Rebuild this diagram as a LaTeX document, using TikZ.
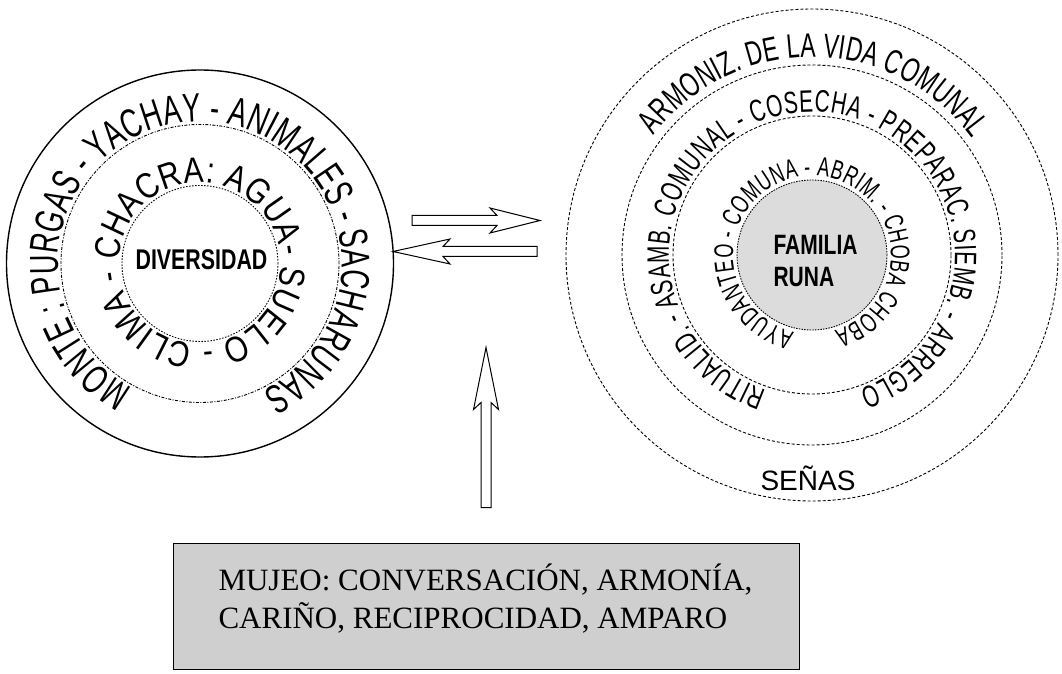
\documentclass[tikz,border=0pt]{standalone}
\usepackage{fontspec}
\setmainfont{Liberation Serif}
\newfontfamily\narrowsans[FakeStretch=0.75]{Liberation Sans}
\newfontfamily\condsans[FakeStretch=0.67]{Liberation Sans}
\newfontfamily\widesans[FakeStretch=0.83]{Liberation Sans}
\newfontfamily\plainsans{Liberation Sans}
\usetikzlibrary{decorations.text}
\definecolor{stipple}{HTML}{CFCFCF}
\definecolor{stippleL}{HTML}{DCDCDC}

% ring fonts (left outer/middle, right outer/middle/inner)
\newcommand\ringLo{\condsans\fontsize{40.5}{40.5}\selectfont}
\newcommand\ringLm{\widesans\fontsize{36}{36}\selectfont}
\newcommand\ringRo{\condsans\fontsize{34}{34}\selectfont}
\newcommand\ringRm{\condsans\fontsize{31}{31}\selectfont}
\newcommand\ringRi{\condsans\fontsize{27}{27}\selectfont}

\begin{document}
\begin{tikzpicture}[x=1pt, y=1pt,
  ringline/.style={circle, draw, inner sep=0pt, line width=0.9pt},
  dashring/.style={ringline, dash pattern=on 3pt off 2pt},
  blockarrow/.style={draw, fill=white, line width=1pt, line join=miter}]
  \useasboundingbox (0,0) rectangle (1062,673);

  \coordinate (leftc) at (200,409.5);
  \coordinate (rightc) at (812,418);

  % Left diagram: chacra
  \node[ringline, line width=1.4pt, minimum size=387] (outerL) at (leftc) {};
  \node[ringline, dash pattern=on 3pt off 1.5pt on 1pt off 1.5pt, minimum size=278] (midL) at (leftc) {};
  \node[ringline, dash pattern=on 1.5pt off 1.5pt, minimum size=156] (innerL) at (leftc) {};
  \node[font=\narrowsans\bfseries\fontsize{28.5}{30}\selectfont] (diversidad) at (201.5,413) {DIVERSIDAD};

  \path[decorate, decoration={text along path, text align=fit to path,
      text={|\ringLo|MONTE : PURGAS - YACHAY - ANIMALES - SACHARUNAS}}]
    ([shift={(241.5:142)}]leftc) arc[start angle=241.5, end angle=-64, radius=142];
  \path[decorate, decoration={text along path, text align=fit to path,
      text={|\ringLm|CHACRA: AGUA- SUELO - CLIMA -}}]
    ([shift={(178:81)}]leftc) arc[start angle=178, end angle=-175, radius=81];

  % Right diagram: familia runa
  \node[dashring, minimum size=492] (outerR) at (rightc) {};
  \node[dashring, minimum size=380] (midR) at (rightc) {};
  \node[dashring, minimum size=278] (innerR) at (rightc) {};
  \node[ringline, fill=stippleL, dash pattern=on 1.5pt off 1.2pt, minimum size=150] (familia) at (rightc) {};
  \node[font=\narrowsans\bfseries\fontsize{28}{32}\selectfont, align=left, inner sep=0pt]
    (familiatxt) at (815.5,412) {FAMILIA\\RUNA};
  \node[font=\plainsans\fontsize{28}{30}\selectfont, anchor=base] (senas) at (808,183) {SEÑAS};

  \path[decorate, decoration={text along path, text align=fit to path,
      text={|\ringRo|ARMONIZ. DE LA VIDA COMUNAL}}]
    ([shift={(143:198)}]rightc) arc[start angle=143, end angle=36, radius=198];
  \path[decorate, decoration={text along path, text align=fit to path,
      text={|\ringRm|RITUALID. - ASAMB. COMUNAL - COSECHA - PREPARAC. SIEMB. - ARREGLO}}]
    ([shift={(251.5:143)}]rightc) arc[start angle=251.5, end angle=-70.4, radius=143];
  \path[decorate, decoration={text along path, text align=fit to path,
      text={|\ringRi|AYUDANTEO - COMUNA - ABRIM. - CHOBA CHOBA}}]
    ([shift={(257:79)}]rightc) arc[start angle=257, end angle=-73.6, radius=79];

  % Bottom box
  \node[draw, fill=stipple, line width=1pt, minimum width=626, minimum height=126, inner sep=0pt]
    (mujeo) at (486,67) {};
  \node[anchor=base west, font=\fontsize{31}{38}\selectfont] (mujeoA) at (215,83)
    {MUJEO: CONVERSACIÓN, ARMONÍA,};
  \node[anchor=base west, font=\fontsize{31}{38}\selectfont] (mujeoB) at (215,45)
    {CARIÑO, RECIPROCIDAD, AMPARO};

  % Hollow arrows: tail / direction / length / head
  \coordinate (arrR) at (412,452.5);
  \coordinate (arrL) at (537,421.5);
  \coordinate (arrU) at ([yshift=35]mujeo.north);
  \foreach \tl/\ang/\len/\hd in {arrR/0/128/50, arrL/180/144/57, arrU/90/160/62}{
    \draw[blockarrow, shift={(\tl)}, rotate=\ang]
      (0,-5) -- (\len-\hd+7,-5) -- (\len-\hd,-12.5) -- (\len,0)
      -- (\len-\hd,12.5) -- (\len-\hd+7,5) -- (0,5) -- cycle;
  }
\end{tikzpicture}
\end{document}
